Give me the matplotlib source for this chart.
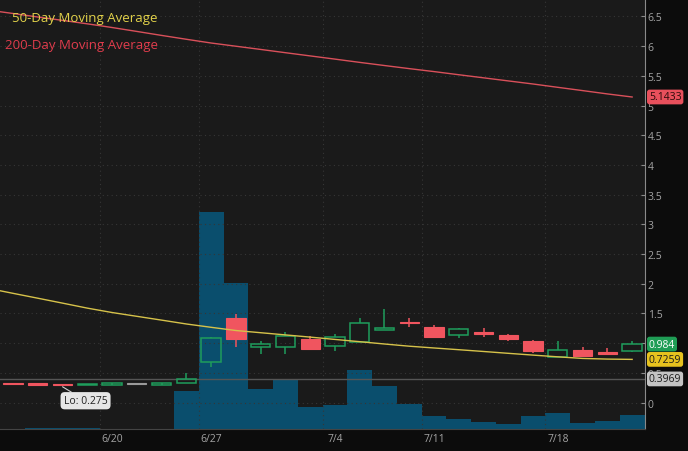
import matplotlib
matplotlib.use("Agg")
import matplotlib.pyplot as plt
from matplotlib.patches import Rectangle

plt.rcParams['font.family'] = ['Open Sans', 'DejaVu Sans']

# daily candles (index 0 = 6/14)
opens  = [0.320, 0.318, 0.310, 0.300, 0.310, 0.315, 0.310, 0.33, 0.68, 1.43, 0.94, 0.93, 1.07,
          0.95, 1.02, 1.22, 1.36, 1.27, 1.14, 1.18, 1.14, 1.04, 0.77, 0.88, 0.855, 0.87]
highs  = [0.325, 0.322, 0.315, 0.310, 0.318, 0.318, 0.318, 0.50, 1.11, 1.49, 1.04, 1.19, 1.12,
          1.15, 1.42, 1.57, 1.43, 1.30, 1.25, 1.25, 1.15, 1.05, 1.03, 0.94, 0.91, 1.04]
lows   = [0.312, 0.300, 0.275, 0.295, 0.305, 0.312, 0.305, 0.33, 0.59, 0.93, 0.82, 0.82, 0.90,
          0.87, 1.02, 1.22, 1.27, 1.08, 1.09, 1.10, 1.03, 0.83, 0.76, 0.79, 0.80, 0.845]
closes = [0.315, 0.305, 0.305, 0.305, 0.315, 0.315, 0.315, 0.40, 1.08, 1.07, 0.985, 1.125, 0.90,
          1.11, 1.34, 1.26, 1.34, 1.11, 1.24, 1.15, 1.07, 0.87, 0.89, 0.79, 0.82, 0.984]
volume = [0.0, 0.1, 0.15, 0.15, 0.05, 0.0, 0.0, 3.8, 21.7, 14.6, 4.0, 5.0, 2.2,
          2.4, 5.9, 4.3, 2.5, 1.3, 1.0, 0.7, 0.5, 1.3, 1.6, 0.6, 0.8, 1.4]

# moving averages, index -1 .. 25
ma_idx = list(range(-1, 26))
ma50 = [1.921, 1.838, 1.756, 1.673, 1.589, 1.515, 1.451, 1.387, 1.322, 1.266, 1.212, 1.175,
        1.138, 1.101, 1.062, 1.024, 0.985, 0.948, 0.918, 0.889, 0.859, 0.828, 0.798, 0.769,
        0.742, 0.731, 0.7259]
ma200 = [6.606, 6.549, 6.490, 6.433, 6.375, 6.313, 6.247, 6.180, 6.115, 6.052, 5.998, 5.944,
         5.889, 5.835, 5.781, 5.726, 5.673, 5.621, 5.571, 5.518, 5.466, 5.414, 5.362, 5.306,
         5.251, 5.195, 5.1433]

tick_idx = [4, 8, 13, 17, 22]
tick_lab = ['6/20', '6/27', '7/4', '7/11', '7/18']
price_ticks = [0, 0.5, 1, 1.5, 2, 2.5, 3, 3.5, 4, 4.5, 5, 5.5, 6, 6.5]
# "1" sits under the last-price bubble in the original, so it stays blank
price_labels = ['0', '0.5', '', '1.5', '2', '2.5', '3', '3.5', '4', '4.5', '5', '5.5', '6', '6.5']

last_close = 0.984
ma50_last = 0.7259
ma200_last = 5.1433
ref_level = 0.3969
low_day = 2
low_val = 0.275

BG = '#1a1a1a'
DARK = '#0c0c0c'
GREEN = '#1f9d5c'
RED = '#f0555f'
GRAY_C = '#9a9a9a'
VOL = '#0a4e6d'
YEL = '#d6c24a'
MRED = '#d9505a'
TXT = '#a4a4a4'

fig = plt.figure(figsize=(6.88, 4.52), dpi=100, facecolor=DARK)
rect = [0.0, 22 / 452, 645 / 688, 430 / 452]
axv = fig.add_axes(rect, facecolor=BG)
ax = fig.add_axes(rect, facecolor='none')

xlim = (-0.525, 25.52)

# volume
axv.bar(range(len(volume)), volume, width=1.0, color=VOL, linewidth=0, align='center')
axv.set_xlim(*xlim)
axv.set_ylim(0, 43.0)
axv.set_xticks([])
axv.set_yticks([])
for s in axv.spines.values():
    s.set_visible(False)

# price panel
ax.set_xlim(*xlim)
ax.set_ylim(-0.446, 6.793)

for y in price_ticks:
    ax.axhline(y, color='#363636', lw=0.8, ls=(0, (1, 3)), zorder=1)
for t in tick_idx:
    ax.axvline(t - 0.5, color='#363636', lw=0.8, ls=(0, (1, 3)), zorder=1)

ax.axhline(ref_level, color='#555555', lw=1.0, zorder=2)

ax.plot(ma_idx, ma200, color=MRED, lw=1.0, zorder=3)
ax.plot(ma_idx, ma50, color=YEL, lw=1.0, zorder=5)

w = 0.78
for i in range(len(opens)):
    o, h, l, c = opens[i], highs[i], lows[i], closes[i]
    if c > o:
        col = GREEN
    elif c < o:
        col = RED
    else:
        col = GRAY_C
    lo_b, hi_b = min(o, c), max(o, c)
    hgt = max(hi_b - lo_b, 0.02)
    if hgt > hi_b - lo_b:
        lo_b = (o + c) / 2 - hgt / 2
        hi_b = lo_b + hgt
    ax.vlines(i, l, lo_b, color=col, lw=1.1, zorder=4)
    ax.vlines(i, hi_b, h, color=col, lw=1.1, zorder=4)
    if c > o:
        ax.add_patch(Rectangle((i - w / 2, lo_b), w, hgt, fc='none', ec=col, lw=1.1, zorder=4))
    else:
        ax.add_patch(Rectangle((i - w / 2, lo_b), w, hgt, fc=col, ec=col, lw=0.8, zorder=4))

# axis styling
for s in ['top', 'left']:
    ax.spines[s].set_visible(False)
ax.spines['right'].set_color('#8a8a8a')
ax.spines['bottom'].set_color('#444444')
ax.yaxis.tick_right()
ax.set_yticks(price_ticks)
ax.set_yticklabels(price_labels)
ax.tick_params(axis='y', direction='in', length=3, color='#8a8a8a', labelcolor=TXT,
               labelsize=7.5, pad=2)
ax.set_xticks(tick_idx)
ax.set_xticklabels(tick_lab)
ax.tick_params(axis='x', length=0, labelcolor=TXT, labelsize=7.5, pad=3)

# price bubbles on the right
tr = ax.get_yaxis_transform()
def bubble(val, fc, tc, txt):
    ax.text(1.006, val, txt, transform=tr, ha='left', va='center', fontsize=7.5, color=tc,
            bbox=dict(boxstyle='round,pad=0.18,rounding_size=0.25', fc=fc, ec='none'),
            zorder=10, clip_on=False)

bubble(ma200_last, '#e8505c', '#2a0a0a', '%.4f' % ma200_last)
bubble(last_close, '#1f9d55', '#ffffff', '%g' % last_close)
bubble(ma50_last, '#e6c21e', '#1a1a1a', '%.4f' % ma50_last)
bubble(ref_level, '#c4c4c4', '#1a1a1a', '%.4f' % ref_level)

# legend text
ax.text(0.018, 0.957, '50-Day Moving Average', transform=ax.transAxes, color='#e2d24a',
        fontsize=9.5, va='center', ha='left', zorder=6)
ax.text(0.008, 0.895, '200-Day Moving Average', transform=ax.transAxes, color='#e03c4c',
        fontsize=9.5, va='center', ha='left', zorder=6)

# low marker
ax.annotate('Lo: %g' % low_val, xy=(low_day, low_val - 0.01), xytext=(2.93, 0.03),
            ha='center', va='center', fontsize=7.5, color='#222222',
            bbox=dict(boxstyle='round,pad=0.3,rounding_size=0.4', fc='#e6e6e6', ec='none'),
            arrowprops=dict(arrowstyle='-', color='#cfcfcf', lw=0.8, shrinkA=0, shrinkB=0),
            zorder=9)

fig.savefig('out.png', dpi=100, facecolor=DARK)
